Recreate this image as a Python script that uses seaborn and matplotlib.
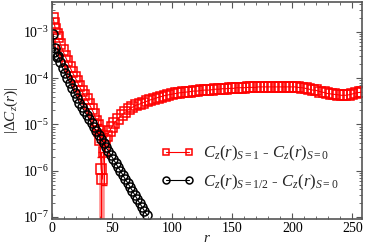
import numpy as np
import matplotlib
matplotlib.use("Agg")
import matplotlib.pyplot as plt
from matplotlib.ticker import MultipleLocator, LogLocator
import seaborn as sns

# |C_z(r)_{S=1} - C_z(r)_{S=0}|
red_r = [1, 2, 3, 4, 5, 7, 9, 11, 13, 15, 17, 19, 21, 23, 25, 27, 29, 31, 33, 35,
         37, 38, 39, 40, 41, 42, 43, 44, 46, 48, 50, 52, 55, 58, 61, 64, 67, 70, 73, 76,
         79, 82, 85, 88, 91, 94, 97, 100, 103, 106, 109, 112, 115, 118, 121, 124, 127, 130, 133, 136,
         139, 142, 145, 148, 151, 154, 157, 160, 163, 166, 169, 172, 175, 178, 181, 184, 187, 190, 193, 196,
         199, 202, 205, 208, 211, 214, 217, 220, 223, 226, 229, 232, 235, 238, 241, 244, 247, 250, 253, 256,
         258]
red_val = [2.0e-3, 1.51e-3, 1.12e-3, 9.1e-4, 7.6e-4, 5.5e-4, 4.0e-4, 3.0e-4, 2.3e-4, 1.74e-4,
           1.35e-4, 1.07e-4, 8.5e-5, 6.6e-5, 5.2e-5, 4.3e-5, 3.5e-5, 2.8e-5, 2.2e-5, 1.7e-5,
           1.2e-5, 9.5e-6, 7.1e-6, 4.5e-6, 1.1e-6, 6.6e-7, 2.5e-6, 4.5e-6, 5.6e-6, 7.1e-6,
           8.9e-6, 1.07e-5, 1.32e-5, 1.58e-5, 1.82e-5, 2.1e-5, 2.35e-5, 2.6e-5, 2.75e-5, 2.95e-5,
           3.16e-5, 3.4e-5, 3.55e-5, 3.8e-5, 4.0e-5, 4.2e-5, 4.35e-5, 4.5e-5, 4.65e-5, 4.8e-5,
           4.9e-5, 5.0e-5, 5.1e-5, 5.25e-5, 5.25e-5, 5.4e-5, 5.5e-5, 5.5e-5, 5.6e-5, 5.75e-5,
           5.75e-5, 5.9e-5, 5.9e-5, 6.0e-5, 6.0e-5, 6.2e-5, 6.2e-5, 6.2e-5, 6.3e-5, 6.3e-5,
           6.3e-5, 6.45e-5, 6.45e-5, 6.45e-5, 6.45e-5, 6.45e-5, 6.45e-5, 6.45e-5, 6.45e-5, 6.45e-5,
           6.45e-5, 6.45e-5, 6.3e-5, 6.2e-5, 6.0e-5, 5.75e-5, 5.5e-5, 5.4e-5, 5.1e-5, 4.9e-5,
           4.65e-5, 4.55e-5, 4.45e-5, 4.35e-5, 4.25e-5, 4.25e-5, 4.35e-5, 4.55e-5, 4.8e-5, 4.9e-5,
           5.0e-5]

# error bars near the sign change
dip_r = [38, 39, 40, 41, 43, 44]
dip_val = [9.5e-6, 7.1e-6, 4.5e-6, 1.1e-6, 2.5e-6, 4.5e-6]
dip_err = [3.0e-6, 3.0e-6, 2.5e-6, 1.5e-6, 2.0e-6, 2.0e-6]
deep_r = [42]
deep_val = [6.6e-7]

# |C_z(r)_{S=1/2} - C_z(r)_{S=0}|
blk_r = [1, 2, 3, 4, 5, 7, 9, 11, 13, 15, 17, 19, 21, 23, 25, 27, 29, 31, 33, 35,
         37, 39, 41, 43, 45, 47, 49, 51, 53, 55, 57, 59, 61, 63, 65, 67, 69, 71, 73, 75,
         77, 79]
blk_val = [8.9e-4, 3.6e-4, 4.5e-4, 2.9e-4, 3.0e-4, 2.2e-4, 1.66e-4, 1.29e-4, 1.0e-4, 7.8e-5,
           6.0e-5, 4.7e-5, 3.7e-5, 2.9e-5, 2.35e-5, 1.95e-5, 1.58e-5, 1.3e-5, 1.07e-5, 8.7e-6,
           7.2e-6, 5.9e-6, 4.8e-6, 4.0e-6, 3.2e-6, 2.7e-6, 2.2e-6, 1.8e-6, 1.48e-6, 1.2e-6,
           1.0e-6, 8.1e-7, 6.6e-7, 5.5e-7, 4.5e-7, 3.7e-7, 3.0e-7, 2.45e-7, 2.0e-7, 1.66e-7,
           1.35e-7, 1.12e-7]

sns.set_style("ticks")
plt.rcParams["font.family"] = ["Liberation Serif", "DejaVu Serif"]
plt.rcParams["mathtext.fontset"] = "custom"
plt.rcParams["mathtext.rm"] = "Liberation Serif"
plt.rcParams["mathtext.it"] = "Liberation Serif:italic"
plt.rcParams["mathtext.cal"] = "Liberation Serif:italic"

fig = plt.figure(figsize=(3.65, 2.46), dpi=100)
ax = fig.add_axes([0.142, 0.110, 0.850, 0.882])

# pale error bar reaching below the axis at the zero crossing
ax.errorbar(deep_r, deep_val, yerr=[[v * 0.999 for v in deep_val], [v * 0.3 for v in deep_val]],
            fmt="none", ecolor="red", elinewidth=4, alpha=0.45)
ax.errorbar(dip_r, dip_val, yerr=dip_err, fmt="none", ecolor="red", elinewidth=0.8, capsize=2.5)

sns.lineplot(x=red_r, y=red_val, ax=ax, color="red", lw=0.8, marker="s", markersize=7,
             markerfacecolor="none", markeredgecolor="red", markeredgewidth=1.1,
             label=r"$C_z(r)_{\mathit{S=1}}$ - $C_z(r)_{\mathit{S=0}}$")
sns.lineplot(x=blk_r, y=blk_val, ax=ax, color="black", lw=0.8, marker="o", markersize=6.5,
             markerfacecolor="none", markeredgecolor="black", markeredgewidth=1.1,
             label=r"$C_z(r)_{\mathit{S=1/2}}$ - $C_z(r)_{\mathit{S=0}}$")

ax.set_yscale("log")
ax.set_xlim(0, 258)
ax.set_ylim(9.1e-8, 4.4e-3)
ax.xaxis.set_major_locator(MultipleLocator(50))
ax.xaxis.set_minor_locator(MultipleLocator(10))
ax.yaxis.set_major_locator(LogLocator(base=10, numticks=12))
ax.yaxis.set_minor_locator(LogLocator(base=10, subs=np.arange(2, 10), numticks=12))
ax.tick_params(which="both", direction="in", top=True, right=True, colors="#555555",
               labelcolor="black", labelsize=10, pad=2)
ax.tick_params(which="major", length=4, width=0.8)
ax.tick_params(which="minor", length=2, width=0.6)
for s in ax.spines.values():
    s.set_color("#555555")
    s.set_linewidth(1.2)

ax.set_xlabel(r"$r$", fontsize=11, labelpad=-2)
ax.set_ylabel(r"$|\Delta C_z(r)|$", fontsize=11, labelpad=2)

leg = ax.legend(loc="upper left", bbox_to_anchor=(0.33, 0.375), frameon=False, numpoints=2,
                handlelength=2.0, handletextpad=0.5, labelspacing=0.55, borderaxespad=0,
                fontsize=12)
for h in leg.legend_handles:
    h.set_markersize(5)

fig.savefig("out.png", dpi=100)
